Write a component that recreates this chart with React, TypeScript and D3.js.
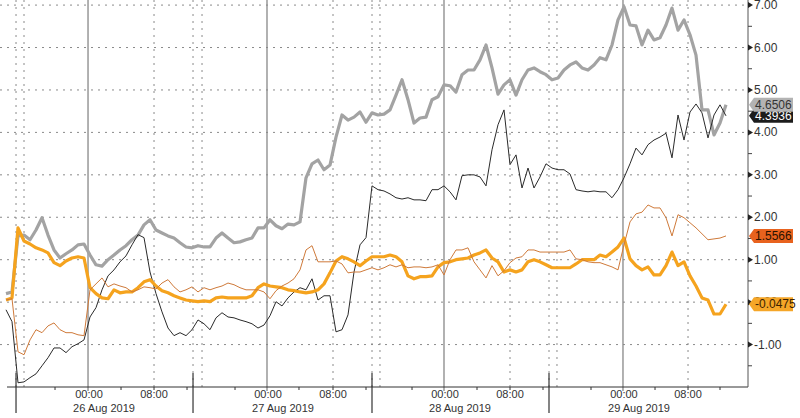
import React from "react";
import * as d3 from "d3";

// Series values (sampled at equal steps across the time axis)
const grayThick = [0.20,0.24,1.56,1.58,1.47,1.70,1.99,1.58,1.23,1.04,1.14,1.23,1.35,1.37,1.11,0.88,0.85,1.00,1.11,1.23,1.33,1.47,1.58,1.82,1.94,1.70,1.63,1.56,1.51,1.40,1.30,1.28,1.33,1.30,1.30,1.51,1.63,1.51,1.40,1.42,1.47,1.51,1.75,1.75,1.94,1.80,1.73,1.84,1.82,1.89,2.93,3.26,3.35,3.12,3.23,3.89,4.41,4.29,4.36,4.48,4.24,4.46,4.41,4.43,4.53,4.88,5.24,4.77,4.22,4.34,4.36,4.77,4.84,5.12,5.10,4.95,5.36,5.47,5.47,5.71,6.06,5.52,4.90,5.12,5.24,4.88,5.24,5.47,5.52,5.43,5.36,5.24,5.28,5.47,5.59,5.66,5.52,5.47,5.59,5.76,5.71,6.06,6.65,6.96,6.53,6.51,6.06,6.41,6.18,6.23,6.53,6.93,6.41,6.65,6.30,5.82,4.53,4.53,3.94,4.22,4.65];
const blackThin = [-0.18,-0.46,-1.90,-1.88,-1.78,-1.69,-1.50,-1.31,-1.08,-1.08,-1.19,-1.05,-0.98,-0.89,-0.35,-0.13,0.29,0.62,0.76,0.95,1.09,1.35,1.59,1.52,0.71,0.20,-0.23,-0.61,-0.79,-0.72,-0.79,-0.65,-0.42,-0.51,-0.65,-0.37,-0.25,-0.35,-0.37,-0.42,-0.46,-0.51,-0.61,-0.54,-0.32,0.01,-0.09,0.10,0.24,0.34,0.29,0.55,0.05,0.15,0.15,-0.70,-0.65,-0.30,0.71,1.35,1.52,2.74,2.65,2.62,2.55,2.46,2.43,2.46,2.41,2.41,2.39,2.65,2.65,2.74,2.60,2.41,2.98,3.00,3.00,2.95,2.74,3.59,4.18,4.53,3.24,3.47,2.69,3.16,2.69,2.95,3.26,3.16,3.12,3.12,3.02,2.65,2.62,2.60,2.62,2.60,2.60,2.46,2.65,2.93,3.26,3.63,3.47,3.71,3.82,3.89,3.98,3.40,4.41,3.82,4.48,4.67,4.46,3.87,4.41,4.65,4.39];
const orangeThick = [0.05,0.10,1.75,1.44,1.37,1.28,1.23,1.16,0.93,0.86,0.97,1.04,1.07,1.04,0.34,0.20,0.10,0.08,0.29,0.22,0.24,0.24,0.34,0.48,0.53,0.38,0.27,0.22,0.15,0.10,0.05,0.03,0.01,0.03,0.01,0.10,0.12,0.10,0.10,0.10,0.10,0.15,0.34,0.43,0.38,0.36,0.34,0.29,0.27,0.24,0.22,0.24,0.29,0.43,0.69,0.97,1.07,1.02,0.95,0.86,0.97,1.07,1.07,1.07,1.11,1.07,0.95,0.62,0.55,0.60,0.60,0.62,0.83,0.93,0.95,1.00,1.02,1.04,1.11,1.16,1.23,1.04,0.95,0.71,0.76,0.71,0.76,0.95,1.00,0.95,0.88,0.81,0.81,0.81,0.81,0.90,1.00,1.00,1.00,1.11,1.07,1.18,1.30,1.51,1.02,0.86,0.76,0.83,0.64,0.64,0.86,1.18,0.86,0.95,0.62,0.38,0.10,0.05,-0.28,-0.28,-0.05];
const orangeThin = [0.05,0.08,-1.17,-1.24,-0.89,-0.65,-0.72,-0.56,-0.49,-0.65,-0.72,-0.72,-0.77,-0.79,0.29,0.43,0.57,0.36,0.43,0.38,0.34,0.24,0.29,0.36,0.34,0.31,0.45,0.53,0.36,0.24,0.29,0.36,0.24,0.34,0.29,0.34,0.38,0.45,0.41,0.34,0.29,0.29,0.29,0.24,0.08,0.27,0.38,0.45,0.55,0.76,1.23,1.33,0.95,0.95,0.95,0.97,0.90,0.69,0.71,0.71,0.76,0.81,0.76,0.81,0.88,0.83,0.88,0.81,0.83,0.83,0.81,0.83,0.88,0.64,1.00,1.23,1.23,1.28,0.95,0.76,0.57,0.86,0.62,0.74,0.93,1.04,1.07,1.23,1.23,1.18,1.18,1.18,1.18,1.18,1.23,1.02,1.00,0.95,0.93,0.93,0.88,0.83,0.76,1.35,1.89,2.08,2.12,2.29,2.22,2.22,1.99,1.56,2.06,1.99,1.87,1.75,1.61,1.47,1.49,1.51,1.56];

// Last-value badges
const badgeLabels = ["4.3936", "4.6506", "1.5566", "-0.0475"];

// Axis ticks (positions in sample-index units)
const midnightTicks = [13.67, 43.5, 73, 102.83];
const midnightLabels = ["00:00", "00:00", "00:00", "00:00"];
const dateLabels = ["26 Aug 2019", "27 Aug 2019", "28 Aug 2019", "29 Aug 2019"];
const eightTicks = [24.67, 54.5, 84, 113.67];
const eightLabels = ["08:00", "08:00", "08:00", "08:00"];
const sessionTicks = [1.67, 31.17, 61, 90.5];
const sessionDotted = [3, 32.67, 62.33, 91.83];
const minorTicks = [8.17, 19.17, 30.17, 38.17, 48.83, 60, 67.67, 78.5, 89.5, 97.5, 108.17, 119];
const yMajor = [-1, 0, 1, 2, 3, 4, 5, 6, 7];
const yMinor = [-1.5, -0.5, 0.5, 1.5, 2.5, 3.5, 4.5, 5.5, 6.5];

export default function App() {
  const W = 800, H = 418;
  const axisX = 748, axisY = 387;
  const x = d3.scaleLinear().domain([0, grayThick.length - 1]).range([6, 726]);
  const y = d3.scaleLinear().domain([-2, 7.12]).range([axisY, 0]);
  const line = d3.line<number>().x((_, i) => x(i)).y((d) => y(d));
  const font = "'Liberation Sans', Arial, sans-serif";
  const grid = "#8a8a8a";

  const badges = [
    { v: blackThin[blackThin.length - 1], label: badgeLabels[0], fill: "#1c1c1c", text: "#ffffff" },
    { v: grayThick[grayThick.length - 1], label: badgeLabels[1], fill: "#b3b3b3", text: "#333333" },
    { v: orangeThin[orangeThin.length - 1], label: badgeLabels[2], fill: "#e8621e", text: "#2a1200" },
    { v: orangeThick[orangeThick.length - 1], label: badgeLabels[3], fill: "#f5a628", text: "#3a2200" },
  ];

  return (
    <svg width={W} height={H} style={{ position: "fixed", left: 0, top: 0, background: "#fff" }}>
      <rect x={0} y={0} width={W} height={H} fill="#fff" />
      {/* horizontal grid */}
      {yMajor.map((v) => (
        <line key={"hg" + v} x1={0} x2={axisX} y1={y(v)} y2={y(v)} stroke={grid} strokeWidth={1} strokeDasharray="2,5" />
      ))}
      {/* vertical dotted grid */}
      {[...eightTicks, ...sessionTicks, ...sessionDotted].map((t, i) => (
        <line key={"vd" + i} x1={x(t)} x2={x(t)} y1={0} y2={axisY} stroke={grid} strokeWidth={1} strokeDasharray="2,5" />
      ))}
      {/* midnight solid lines */}
      {midnightTicks.map((t, i) => (
        <line key={"vm" + i} x1={x(t)} x2={x(t)} y1={0} y2={axisY + 4} stroke="#888" strokeWidth={1.3} />
      ))}
      {/* series */}
      <path d={line(grayThick) || ""} fill="none" stroke="#a3a3a3" strokeWidth={3.2} strokeLinejoin="round" />
      <path d={line(blackThin) || ""} fill="none" stroke="#2a2a2a" strokeWidth={1} strokeLinejoin="round" />
      <path d={line(orangeThick) || ""} fill="none" stroke="#f5a31e" strokeWidth={3.2} strokeLinejoin="round" />
      <path d={line(orangeThin) || ""} fill="none" stroke="#cf7a3a" strokeWidth={1} strokeLinejoin="round" />
      {/* bottom axis */}
      <line x1={7} x2={axisX} y1={axisY} y2={axisY} stroke="#333" strokeWidth={1} />
      {minorTicks.map((t, i) => (
        <line key={"mt" + i} x1={x(t)} x2={x(t)} y1={axisY} y2={axisY + 3} stroke="#333" />
      ))}
      {eightTicks.map((t, i) => (
        <line key={"et" + i} x1={x(t)} x2={x(t)} y1={axisY} y2={axisY + 3} stroke="#333" />
      ))}
      {sessionTicks.map((t, i) => (
        <line key={"st" + i} x1={x(t)} x2={x(t)} y1={axisY - 14} y2={axisY + 26} stroke="#333" strokeWidth={1.2} />
      ))}
      {midnightTicks.map((t, i) => (
        <g key={"ml" + i} fontFamily={font} fontSize={11} fill="#333" textAnchor="middle">
          <text x={x(t) + 1} y={398}>{midnightLabels[i]}</text>
          <text x={x(t) + 16} y={412}>{dateLabels[i]}</text>
        </g>
      ))}
      {eightTicks.map((t, i) => (
        <text key={"el" + i} x={x(t)} y={398} fontFamily={font} fontSize={11} fill="#333" textAnchor="middle">{eightLabels[i]}</text>
      ))}
      {/* right axis */}
      <line x1={axisX} x2={axisX} y1={0} y2={axisY} stroke="#555" strokeWidth={1} />
      {yMinor.map((v) => (
        <line key={"ym" + v} x1={axisX} x2={axisX + 4} y1={y(v)} y2={y(v)} stroke="#444" />
      ))}
      {yMajor.map((v) => (
        <g key={"yl" + v}>
          <path d={`M${axisX},${y(v) - 3}L${axisX + 5},${y(v)}L${axisX},${y(v) + 3}Z`} fill="#222" />
          <text x={axisX + 6} y={y(v) + 4} fontFamily={font} fontSize={12} fill="#333">{v.toFixed(2)}</text>
        </g>
      ))}
      {/* badges */}
      {badges.map((b, i) => {
        const yc = y(b.v);
        const x0 = axisX + 1, x1 = 793;
        return (
          <g key={"b" + i}>
            <path d={`M${x0},${yc}L${x0 + 5},${yc - 7}L${x1},${yc - 7}L${x1},${yc + 7}L${x0 + 5},${yc + 7}Z`} fill={b.fill} />
            <text x={x0 + 6} y={yc + 4} fontFamily={font} fontSize={12} fill={b.text}>{b.label}</text>
          </g>
        );
      })}
    </svg>
  );
}
